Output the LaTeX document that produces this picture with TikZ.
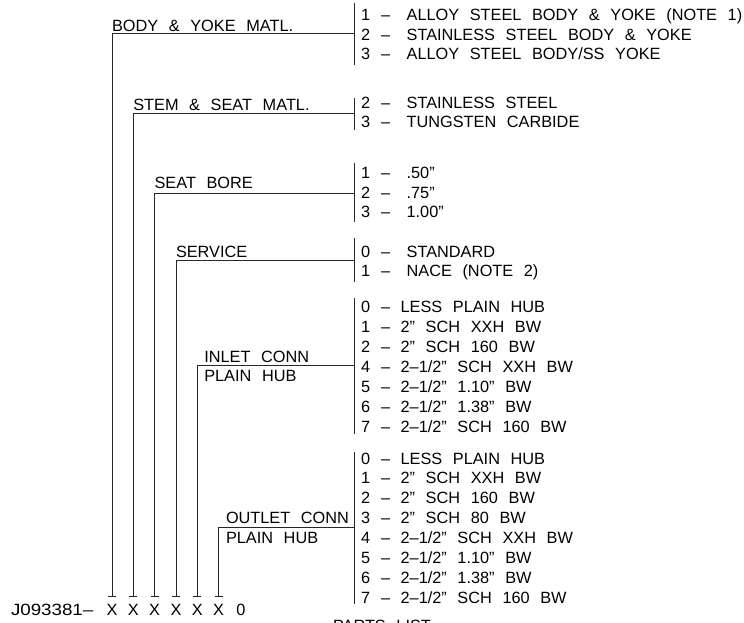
\documentclass[tikz,border=0pt]{standalone}
\usepackage{fontspec}
\setmainfont{Liberation Sans}[WordSpace=2.35]
\newfontfamily\widefont{Liberation Sans}[FakeStretch=1.15]
\usetikzlibrary{arrows.meta}
\newcommand{\optU}[2]{#1\hspace{11pt}–\hspace{16.5pt}#2}
\newcommand{\optL}[2]{#1\hspace{11pt}–\hspace{10.5pt}#2}
\begin{document}
\begin{tikzpicture}[x=1pt,y=-1pt,
  txt/.style={anchor=base west, inner sep=0pt, outer sep=0pt, font=\fontsize{16.3}{20}\selectfont},
  codechar/.style={anchor=base, inner sep=0pt, outer sep=0pt, font=\fontsize{16.3}{20}\selectfont},
  lead/.style={draw=black!85, line width=0.9pt, {Bar[width=8pt,line width=0.9pt]}-},
  optbar/.style={draw=black!85, line width=0.9pt}]
\useasboundingbox (0,0) rectangle (744,622);

% part number code
\node[txt, font=\widefont\fontsize{16.3}{20}\selectfont] (code) at (11,615) {J093381–};
\foreach \i/\x in {1/112,2/133.3,3/154.6,4/176,5/197.3,6/218.6} {
  \node[codechar] (x\i) at (\x,615) {X};
  \coordinate (e\i) at (\x,597);
}
\node[codechar] (zero) at (241,615) {0};
\node[txt] (pl) at (333,631.5) {PARTS LIST};

% titles
\node[txt] (t1) at (112,31.5) {BODY \& YOKE MATL.};
\node[txt] (t2) at (133.3,110) {STEM \& SEAT MATL.};
\node[txt] (t3) at (154.6,188) {SEAT BORE};
\node[txt] (t4) at (176,257) {SERVICE};
\node[txt] (t5a) at (204.3,362) {INLET CONN};
\node[txt] (t5b) at (204.3,381) {PLAIN HUB};
\node[txt] (t6a) at (226,523) {OUTLET CONN};
\node[txt] (t6b) at (226,543) {PLAIN HUB};

% junctions on option bars
\coordinate (j1) at (354,33.3);
\coordinate (j2) at (354,113.3);
\coordinate (j3) at (354,193.3);
\coordinate (j4) at (354,260);
\coordinate (j5) at (354,365);
\coordinate (j6) at (354,527);

% option bars
\coordinate (b1t) at (354,3);   \coordinate (b1b) at (354,65);
\coordinate (b2t) at (354,98);  \coordinate (b2b) at (354,130);
\coordinate (b3t) at (354,163); \coordinate (b3b) at (354,222);
\coordinate (b4t) at (354,238); \coordinate (b4b) at (354,282);
\coordinate (b5t) at (354,298); \coordinate (b5b) at (354,434);
\coordinate (b6t) at (354,452); \coordinate (b6b) at (354,604);
\foreach \k in {1,...,6} { \draw[optbar] (b\k t) -- (b\k b); }

% leader lines
\foreach \k in {1,...,6} { \draw[lead] (e\k) |- (j\k); }

% options
\foreach \n/\t [count=\k] in {1/{ALLOY STEEL BODY \& YOKE (NOTE 1)},2/{STAINLESS STEEL BODY \& YOKE},3/{ALLOY STEEL BODY/SS YOKE}}
  { \node[txt] (oa\k) at (361,{20.5+19.5*(\k-1)}) {\optU{\n}{\t}}; }
\foreach \n/\t [count=\k] in {2/{STAINLESS STEEL},3/{TUNGSTEN CARBIDE}}
  { \node[txt] (ob\k) at (361,{108+19.5*(\k-1)}) {\optU{\n}{\t}}; }
\foreach \n/\t [count=\k] in {1/{.50”},2/{.75”},3/{1.00”}}
  { \node[txt] (oc\k) at (361,{178.5+19.5*(\k-1)}) {\optU{\n}{\t}}; }
\foreach \n/\t [count=\k] in {0/{STANDARD},1/{NACE (NOTE 2)}}
  { \node[txt] (od\k) at (361,{257+19.5*(\k-1)}) {\optU{\n}{\t}}; }
\foreach \n/\t [count=\k] in {0/{LESS PLAIN HUB},1/{2” SCH XXH BW},2/{2” SCH 160 BW},4/{2–1/2” SCH XXH BW},5/{2–1/2” 1.10” BW},6/{2–1/2” 1.38” BW},7/{2–1/2” SCH 160 BW}}
  { \node[txt] (oe\k) at (361,{312+20*(\k-1)}) {\optL{\n}{\t}}; }
\foreach \n/\t [count=\k] in {0/{LESS PLAIN HUB},1/{2” SCH XXH BW},2/{2” SCH 160 BW},3/{2” SCH 80 BW},4/{2–1/2” SCH XXH BW},5/{2–1/2” 1.10” BW},6/{2–1/2” 1.38” BW},7/{2–1/2” SCH 160 BW}}
  { \node[txt] (of\k) at (361,{464+19.86*(\k-1)}) {\optL{\n}{\t}}; }
\end{tikzpicture}
\end{document}
